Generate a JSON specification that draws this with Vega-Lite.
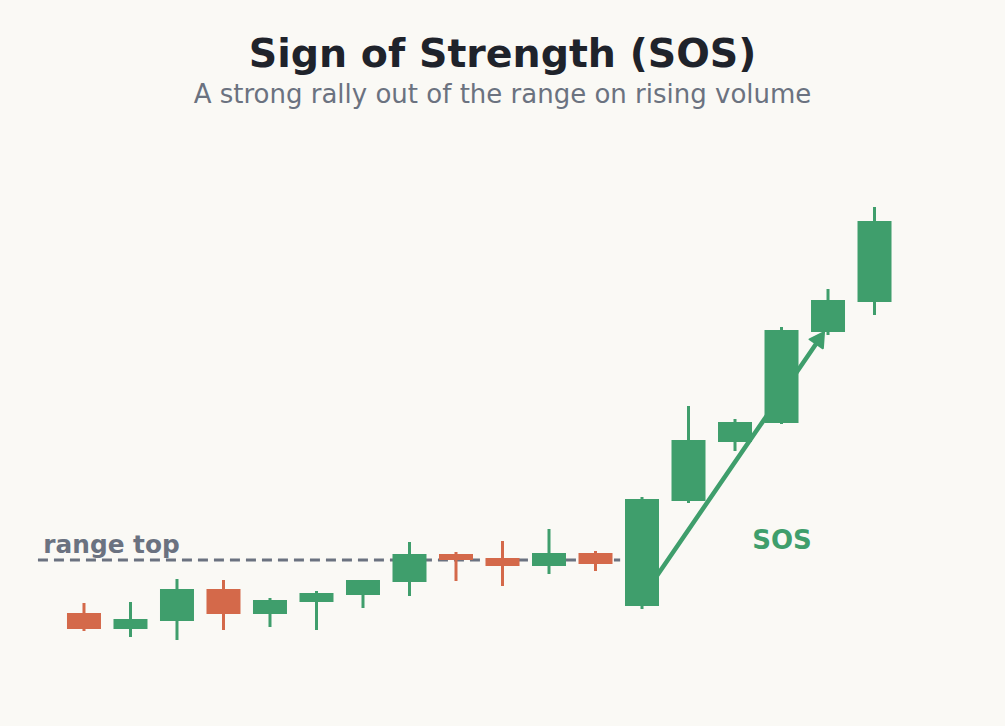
{
  "$schema": "https://vega.github.io/schema/vega-lite/v6.json",
  "width": 1005,
  "height": 596,
  "autosize": "none",
  "padding": {"top": 130, "left": 0, "right": 0, "bottom": 0},
  "background": "#faf9f5",
  "config": {"view": {"stroke": null}, "font": "DejaVu Sans"},
  "title": {
    "text": "Sign of Strength (SOS)",
    "subtitle": "A strong rally out of the range on rising volume",
    "anchor": "middle",
    "frame": "group",
    "font": "DejaVu Sans",
    "fontSize": 39.5,
    "fontWeight": "bold",
    "color": "#1f232b",
    "subtitleFont": "DejaVu Sans",
    "subtitleFontSize": 26,
    "subtitleColor": "#6b7280",
    "subtitlePadding": 7,
    "offset": 21
  },
  "datasets": {
    "candles": [
      {"i": 1, "open": 94.7, "high": 95.7, "low": 92.9, "close": 93.1, "dir": "down"},
      {"i": 2, "open": 93.1, "high": 95.8, "low": 92.3, "close": 94.1, "dir": "up"},
      {"i": 3, "open": 93.9, "high": 98.1, "low": 92.0, "close": 97.1, "dir": "up"},
      {"i": 4, "open": 97.1, "high": 98.0, "low": 93.0, "close": 94.6, "dir": "down"},
      {"i": 5, "open": 94.6, "high": 96.2, "low": 93.3, "close": 96.0, "dir": "up"},
      {"i": 6, "open": 95.8, "high": 96.9, "low": 93.0, "close": 96.7, "dir": "up"},
      {"i": 7, "open": 96.5, "high": 98.0, "low": 95.2, "close": 98.0, "dir": "up"},
      {"i": 8, "open": 97.8, "high": 101.8, "low": 96.4, "close": 100.6, "dir": "up"},
      {"i": 9, "open": 100.6, "high": 100.8, "low": 97.9, "close": 100.0, "dir": "down"},
      {"i": 10, "open": 100.2, "high": 101.9, "low": 97.4, "close": 99.4, "dir": "down"},
      {"i": 11, "open": 99.4, "high": 103.1, "low": 98.6, "close": 100.7, "dir": "up"},
      {"i": 12, "open": 100.7, "high": 100.9, "low": 98.9, "close": 99.6, "dir": "down"},
      {"i": 13, "open": 95.4, "high": 106.3, "low": 95.1, "close": 106.1, "dir": "up"},
      {"i": 14, "open": 105.9, "high": 115.4, "low": 105.7, "close": 112.0, "dir": "up"},
      {"i": 15, "open": 111.8, "high": 114.1, "low": 110.9, "close": 113.8, "dir": "up"},
      {"i": 16, "open": 113.7, "high": 123.3, "low": 113.6, "close": 123.0, "dir": "up"},
      {"i": 17, "open": 122.8, "high": 127.1, "low": 122.5, "close": 126.0, "dir": "up"},
      {"i": 18, "open": 125.8, "high": 135.3, "low": 124.5, "close": 133.9, "dir": "up"}
    ],
    "rangeTop": [
      {"x": 0.01, "y": 100.0},
      {"x": 12.53, "y": 100.0}
    ],
    "arrow": [
      {"x": 13.17, "y": 97.4},
      {"x": 16.83, "y": 122.2}
    ],
    "arrowHead": [
      {"x": 16.83, "y": 122.2, "angle": 34}
    ],
    "labels": [
      {"x": 0.125, "y": 100.67, "text": "range top", "kind": "range"},
      {"x": 16.01, "y": 101.1, "text": "SOS", "kind": "sos"}
    ]
  },
  "encoding": {
    "x": {"type": "quantitative", "scale": {"domain": [-0.806, 20.806], "nice": false, "zero": false, "padding": 0}, "axis": null},
    "y": {"type": "quantitative", "scale": {"domain": [83.4, 143], "nice": false, "zero": false, "padding": 0}, "axis": null}
  },
  "layer": [
    {
      "data": {"name": "rangeTop"},
      "mark": {"type": "line", "color": "#6b7280", "strokeWidth": 3, "strokeDash": [10, 6]},
      "encoding": {"x": {"field": "x", "type": "quantitative"}, "y": {"field": "y", "type": "quantitative"}}
    },
    {
      "data": {"name": "arrow"},
      "mark": {"type": "line", "color": "#3f9e6c", "strokeWidth": 4.5, "strokeCap": "round"},
      "encoding": {"x": {"field": "x", "type": "quantitative"}, "y": {"field": "y", "type": "quantitative"}}
    },
    {
      "data": {"name": "arrowHead"},
      "mark": {"type": "point", "shape": "triangle-up", "filled": true, "color": "#3f9e6c", "size": 260, "opacity": 1, "strokeWidth": 2, "stroke": "#3f9e6c", "strokeJoin": "round"},
      "encoding": {
        "x": {"field": "x", "type": "quantitative"},
        "y": {"field": "y", "type": "quantitative"},
        "angle": {"field": "angle", "type": "quantitative", "scale": null}
      }
    },
    {
      "data": {"name": "candles"},
      "mark": {"type": "rule", "strokeWidth": 3},
      "encoding": {
        "x": {"field": "i", "type": "quantitative"},
        "y": {"field": "low", "type": "quantitative"},
        "y2": {"field": "high"},
        "color": {"field": "dir", "type": "nominal", "scale": {"domain": ["up", "down"], "range": ["#3f9e6c", "#d4694a"]}, "legend": null}
      }
    },
    {
      "data": {"name": "candles"},
      "mark": {"type": "bar", "width": 34, "opacity": 1},
      "encoding": {
        "x": {"field": "i", "type": "quantitative"},
        "y": {"field": "open", "type": "quantitative"},
        "y2": {"field": "close"},
        "color": {"field": "dir", "type": "nominal", "scale": {"domain": ["up", "down"], "range": ["#3f9e6c", "#d4694a"]}, "legend": null}
      }
    },
    {
      "data": {"name": "labels"},
      "transform": [{"filter": "datum.kind === 'range'"}],
      "mark": {"type": "text", "align": "left", "baseline": "alphabetic", "font": "DejaVu Sans", "fontSize": 24.8, "fontWeight": "bold", "color": "#6b7280"},
      "encoding": {
        "x": {"field": "x", "type": "quantitative"},
        "y": {"field": "y", "type": "quantitative"},
        "text": {"field": "text"}
      }
    },
    {
      "data": {"name": "labels"},
      "transform": [{"filter": "datum.kind === 'sos'"}],
      "mark": {"type": "text", "align": "center", "baseline": "alphabetic", "font": "DejaVu Sans", "fontSize": 26, "fontWeight": "bold", "color": "#3f9e6c"},
      "encoding": {
        "x": {"field": "x", "type": "quantitative"},
        "y": {"field": "y", "type": "quantitative"},
        "text": {"field": "text"}
      }
    }
  ]
}
